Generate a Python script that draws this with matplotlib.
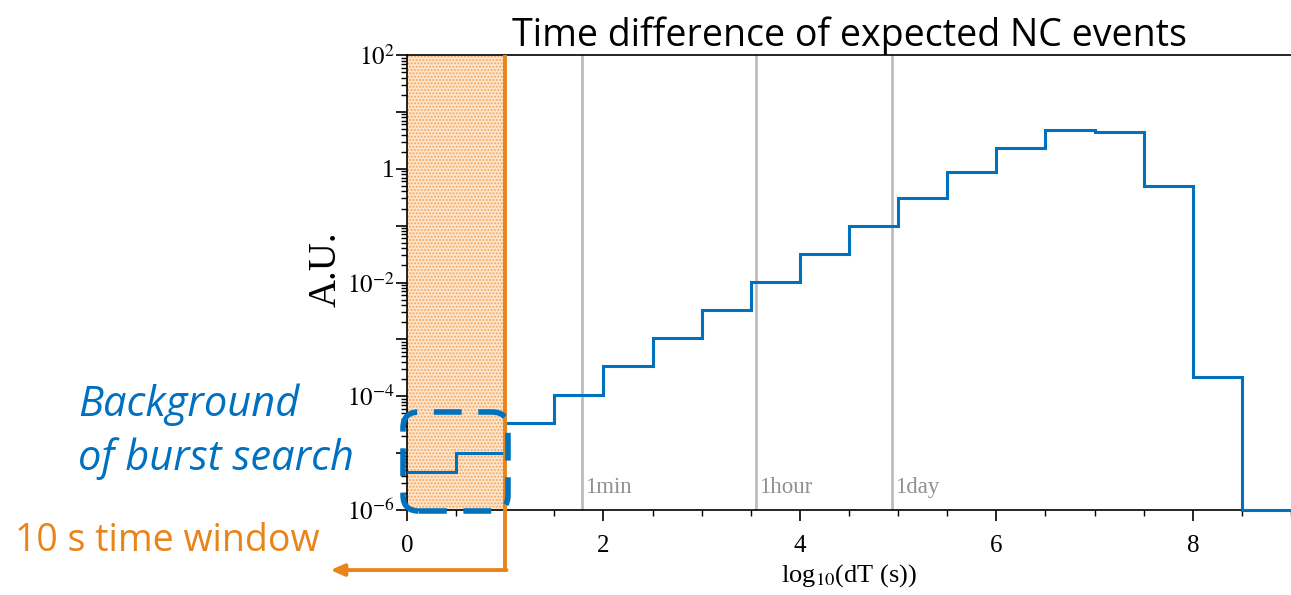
import matplotlib
matplotlib.use('Agg')
import numpy as np
import matplotlib.pyplot as plt
from matplotlib.patches import FancyBboxPatch
from matplotlib.ticker import LogLocator, FuncFormatter, MultipleLocator

plt.rcParams['font.family'] = 'serif'
plt.rcParams['font.serif'] = ['Liberation Serif', 'DejaVu Serif']
plt.rcParams['mathtext.fontset'] = 'stix'
plt.rcParams['hatch.linewidth'] = 1.0

# histogram of log10(dT / s), bin width 0.5
bin_edges = [0, 0.5, 1, 1.5, 2, 2.5, 3, 3.5, 4, 4.5, 5, 5.5, 6, 6.5, 7, 7.5, 8, 8.5, 9]
counts = [4.7e-6, 1.0e-5, 3.4e-5, 1.05e-4, 3.4e-4, 1.07e-3, 3.3e-3, 1.02e-2,
          3.2e-2, 0.10, 0.30, 0.89, 2.35, 4.8, 4.4, 0.49, 2.2e-4, 1e-6]

# reference time scales
ref_names = ['1min', '1hour', '1day']
ref_seconds = [60, 3600, 86400]

window_log10 = 1.0  # 10 s

blue = '#0072bd'
orange = '#e8841a'
gray = '#bdbdbd'

fig = plt.figure(figsize=(12.91, 5.95), dpi=100)
ax = fig.add_axes([407 / 1291, 85 / 595, 884 / 1291, 455 / 595])

ax.set_yscale('log')
ax.set_xlim(0, 9)
ax.set_ylim(1e-6, 1e2)

# 10 s window
ax.axvspan(0, window_log10, facecolor='#fde6cf', edgecolor='#f6a55a',
           hatch='.....', linewidth=0, zorder=0)

for name, sec in zip(ref_names, ref_seconds):
    xv = np.log10(sec)
    ax.axvline(xv, color=gray, lw=2, zorder=1)
    ax.text(xv + 0.03, 1.6e-6, name, color='#909090', fontsize=16.5,
            ha='left', va='bottom')

ax.stairs(counts, bin_edges, baseline=None, color=blue, lw=2.2, zorder=3,
          clip_on=False)

# spines and ticks
ax.spines['right'].set_visible(False)
for s in ['left', 'bottom', 'top']:
    ax.spines[s].set_linewidth(1.2)
ax.yaxis.set_major_locator(LogLocator(base=10, numticks=20))
ax.yaxis.set_minor_locator(LogLocator(base=10, subs=np.arange(2, 10), numticks=20))


def ylab(v, pos):
    e = int(round(np.log10(v)))
    if e % 2:
        return ''
    if e == 0:
        return '1'
    return r'$10^{%d}$' % e


ax.yaxis.set_major_formatter(FuncFormatter(ylab))
ax.xaxis.set_major_locator(MultipleLocator(2))
ax.xaxis.set_minor_locator(MultipleLocator(0.5))
ax.tick_params(which='major', direction='out', length=8, width=1.2,
               labelsize=18, top=False, right=False)
ax.tick_params(which='minor', direction='out', length=4.5, width=1.0,
               top=False, right=False)
ax.tick_params(axis='y', which='major', pad=1)
ax.tick_params(axis='x', which='major', pad=10)

ax.set_xlabel(r'log$_{10}$(dT (s))', fontsize=19, labelpad=4)
ax.set_ylabel('A.U.', fontsize=28)
ax.yaxis.set_label_coords(-0.07, 0.53)
ax.set_title('Time difference of expected NC events', fontsize=27,
             family='Open Sans', pad=4)

# orange marker line with arrow to the left
tr = ax.get_xaxis_transform()
ax.plot([window_log10, window_log10], [1, -0.132], color=orange, lw=2.8,
        transform=tr, clip_on=False, zorder=4, solid_capstyle='butt')
ax.annotate('', xy=(-0.78, -0.132), xycoords=tr,
            xytext=(window_log10 + 0.013, -0.132), textcoords=tr,
            arrowprops=dict(arrowstyle='-|>,head_length=0.8,head_width=0.35',
                            color=orange, lw=2.8, shrinkA=0, shrinkB=0))

# blue dashed rounded box around the background region
aspect = 1291 / 595
box = FancyBboxPatch((403 / 1291, 1 - 511 / 595), 105 / 1291, 99 / 595,
                     boxstyle='round,pad=0,rounding_size=%f' % (16 / 1291),
                     mutation_aspect=aspect, transform=fig.transFigure,
                     fill=False, edgecolor=blue, lw=4, linestyle=(0, (5, 3)),
                     zorder=6)
fig.patches.append(box)

fig.text(78 / 1291, 1 - 405 / 595, 'Background',
         color='#0070c0', fontsize=30, style='italic', family='Open Sans',
         ha='left', va='center')
fig.text(78 / 1291, 1 - 459 / 595, 'of burst search',
         color='#0070c0', fontsize=30, style='italic', family='Open Sans',
         ha='left', va='center')
fig.text(15 / 1291, 1 - 541 / 595, '10 s time window', color=orange,
         fontsize=27, family='Open Sans', ha='left', va='center')

fig.savefig('out.png', dpi=100)
